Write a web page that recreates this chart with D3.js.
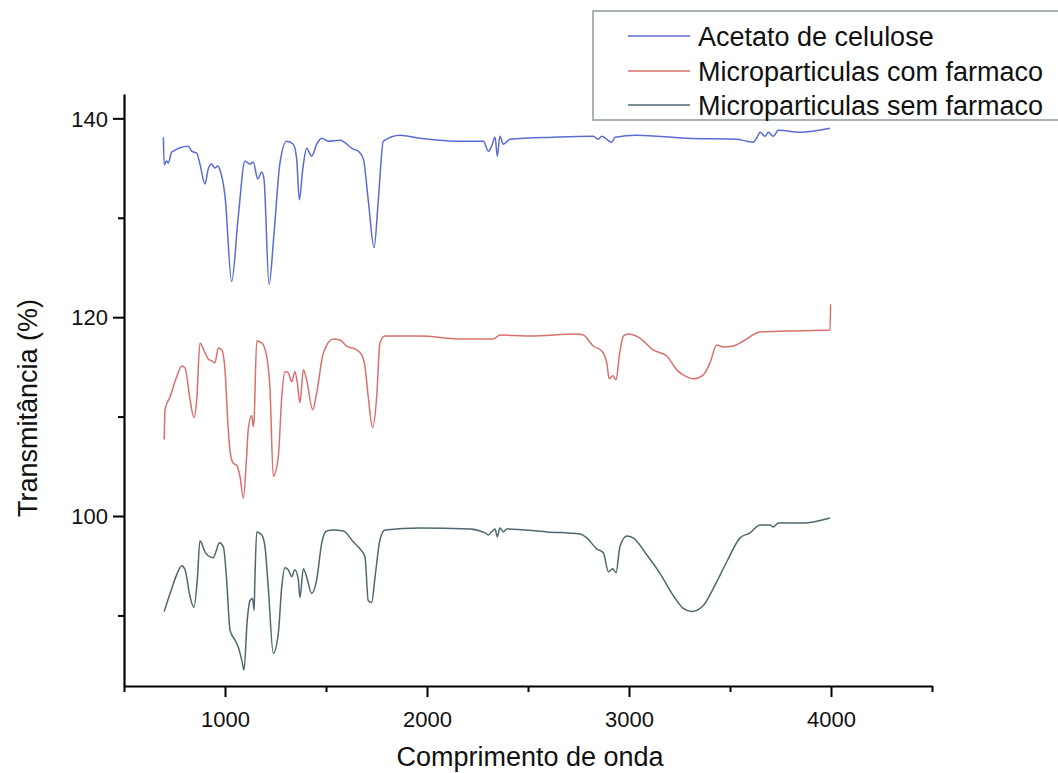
<!DOCTYPE html>
<html>
<head>
<meta charset="utf-8">
<script src="https://cdn.jsdelivr.net/npm/d3@7"></script>
<style>
  html, body { margin: 0; padding: 0; background: #fff; }
  svg { display: block; }
  text { font-family: "Liberation Sans", Arial, sans-serif; }
</style>
</head>
<body>
<svg id="chart" width="1058" height="773"></svg>
<script>
// ---------- data ----------
const seriesNames = ["Acetato de celulose", "Microparticulas com farmaco", "Microparticulas sem farmaco"];

const acetatoWn = [695,699,711,719,736,818,835,860,876,901,917,934,950,964,975,1000,1033,1066,1099,1124,1140,1162,1182,1193,1218,1243,1272,1305,1338,1355,1368,1385,1404,1429,1454,1479,1511,1569,1635,1660,1685,1709,1738,1759,1784,1866,1965,2064,2130,2279,2304,2320,2337,2348,2361,2378,2411,2625,2823,2848,2865,2914,2931,3038,3286,3533,3583,3615,3632,3649,3673,3690,3714,3739,3847,3995];
const acetatoT  = [138.1,135.3,135.7,135.5,136.6,137.2,136.7,136.5,135.4,133.4,134.9,135.4,135.0,135.2,134.8,132.2,123.6,130.2,135.7,135.4,135.6,133.9,134.6,133.9,123.3,128.5,135.5,137.7,137.4,135.9,131.8,134.9,137.0,136.2,137.4,138.0,137.7,137.8,136.9,136.7,135.9,131.8,127.0,131.8,137.7,138.3,138.0,137.8,137.7,137.7,136.7,137.2,138.1,136.2,138.2,137.4,137.9,138.1,138.2,137.9,138.2,137.6,138.1,138.3,138.0,137.9,137.7,137.6,138.0,138.6,138.2,138.6,138.2,138.8,138.6,139.0];

const comWn = [699,703,728,761,786,802,827,846,860,876,901,917,934,950,967,984,1000,1016,1025,1041,1058,1074,1091,1107,1115,1132,1140,1144,1157,1182,1206,1223,1239,1264,1281,1297,1313,1330,1346,1358,1371,1388,1404,1434,1454,1487,1536,1569,1602,1652,1677,1693,1709,1731,1751,1767,1792,1866,1965,2163,2328,2361,2510,2741,2774,2823,2865,2890,2902,2919,2936,2952,2972,2996,3054,3120,3187,3236,3286,3318,3368,3401,3434,3467,3516,3566,3648,3781,3995,3998];
const comT  = [107.7,110.7,112.0,114.0,115.1,114.9,111.7,109.9,111.7,117.4,116.4,115.8,115.6,115.4,116.9,116.7,114.7,108.7,106.5,105.3,105.1,104.0,101.8,106.0,108.7,110.1,109.0,109.7,117.6,117.4,116.1,112.7,104.0,106.0,112.0,114.5,114.4,113.5,114.5,113.4,111.4,114.7,113.7,110.7,112.4,116.4,117.8,117.7,117.1,116.7,116.2,115.0,112.0,108.9,112.0,117.4,118.1,118.1,118.1,117.8,117.8,118.2,118.1,118.3,118.2,117.1,116.6,115.4,113.8,114.1,113.7,116.1,118.1,118.3,117.9,116.7,116.1,114.7,114.0,113.8,114.2,115.4,117.2,117.0,117.1,117.6,118.5,118.6,118.7,121.3];

const semWn = [699,728,761,786,802,827,846,863,876,901,917,942,955,972,992,1008,1025,1050,1066,1083,1094,1110,1124,1137,1144,1148,1157,1182,1198,1214,1239,1264,1281,1297,1313,1330,1346,1363,1371,1388,1404,1429,1454,1479,1503,1536,1586,1635,1668,1693,1709,1726,1743,1767,1792,1965,2213,2287,2304,2320,2337,2348,2361,2378,2395,2593,2757,2791,2840,2873,2898,2919,2936,2955,2989,3021,3088,3154,3219,3269,3310,3368,3417,3484,3550,3599,3649,3698,3714,3739,3863,3995];
const semT  = [90.4,92.2,94.1,95.0,94.6,91.9,90.8,93.6,97.5,96.4,96.0,95.8,96.4,97.3,96.9,93.6,88.5,87.5,86.8,85.5,84.5,89.5,91.5,91.7,90.5,93.6,98.4,98.1,96.9,92.9,86.2,88.2,92.9,94.8,94.6,93.9,94.6,93.6,91.8,94.7,93.9,92.2,93.6,97.3,98.5,98.6,98.5,97.4,96.7,95.9,91.5,91.3,93.9,97.6,98.6,98.8,98.7,98.3,98.1,98.4,98.7,97.9,98.8,98.4,98.7,98.4,98.2,97.8,96.7,96.3,94.4,94.7,94.3,96.9,98.0,97.8,96.1,94.2,92.0,90.7,90.4,91.0,92.7,95.4,97.8,98.3,99.1,99.1,98.9,99.3,99.3,99.8];

const xTicks = [500,1000,1500,2000,2500,3000,3500,4000,4500];
const xTickLabels = [1000,2000,3000,4000];
const yTicks = [90,100,110,120,130,140];
const yTickLabels = [100,120,140];

const xTitle = "Comprimento de onda";
const yTitle = "Transmitância (%)";
const colors = ["#5a6cd2", "#d9706e", "#4f6870"];

// ---------- drawing ----------
const svg = d3.select("#chart");
const x = d3.scaleLinear().domain([500, 4500]).range([124, 932]);
const y = d3.scaleLinear().domain([82.9, 142.45]).range([686, 94]);

const series = [
  {name: seriesNames[0], wn: acetatoWn, t: acetatoT, color: colors[0]},
  {name: seriesNames[1], wn: comWn, t: comT, color: colors[1]},
  {name: seriesNames[2], wn: semWn, t: semT, color: colors[2]}
];

const line = d3.line()
  .x(d => x(d[0])).y(d => y(d[1]))
  .curve(d3.curveMonotoneX);

series.forEach(s => {
  const pts = d3.zip(s.wn, s.t);
  svg.append("path")
    .datum(pts)
    .attr("fill", "none")
    .attr("stroke", s.color)
    .attr("stroke-width", 1.5)
    .attr("stroke-linejoin", "round")
    .attr("d", line);
});

// X axis
const xAxis = svg.append("g")
  .attr("transform", `translate(0,${y.range()[0]})`)
  .call(d3.axisBottom(x).tickValues(xTicks)
    .tickFormat(d => xTickLabels.includes(d) ? d : "")
    .tickSizeOuter(0));
xAxis.select(".domain").attr("stroke", "#000").attr("stroke-width", 2.2);
xAxis.selectAll(".tick line")
  .attr("stroke", "#000").attr("stroke-width", 2)
  .attr("y2", d => d % 1000 === 0 ? 11 : 6);
xAxis.selectAll(".tick text")
  .attr("y", 25).attr("dy", "0.71em")
  .attr("font-size", 22).attr("fill", "#111")
  .style("font-family", '"Liberation Sans", Arial, sans-serif');

// Y axis
const yAxis = svg.append("g")
  .attr("transform", `translate(${x.range()[0]},0)`)
  .call(d3.axisLeft(y).tickValues(yTicks)
    .tickFormat(d => yTickLabels.includes(d) ? d : "")
    .tickSizeOuter(0));
yAxis.select(".domain").attr("stroke", "#000").attr("stroke-width", 2.2);
yAxis.selectAll(".tick line")
  .attr("stroke", "#000").attr("stroke-width", 2)
  .attr("x2", d => yTickLabels.includes(d) ? -11 : -6);
yAxis.selectAll(".tick text")
  .attr("x", -16).attr("dy", "0.35em")
  .attr("font-size", 22).attr("fill", "#111")
  .style("font-family", '"Liberation Sans", Arial, sans-serif');

// Axis titles
svg.append("text")
  .attr("x", (x.range()[0] + x.range()[1]) / 2 + 2)
  .attr("y", 766)
  .attr("text-anchor", "middle")
  .attr("font-size", 27).attr("fill", "#111")
  .text(xTitle);

svg.append("text")
  .attr("transform", "translate(37,408) rotate(-90)")
  .attr("text-anchor", "middle")
  .attr("font-size", 27).attr("fill", "#111")
  .text(yTitle);

// Legend
const lg = svg.append("g");
lg.append("rect")
  .attr("x", 593).attr("y", 11).attr("width", 500).attr("height", 109)
  .attr("fill", "#fff").attr("stroke", "#8c9a9c").attr("stroke-width", 1.5);
const rowY = [36, 71, 105];
series.forEach((s, i) => {
  lg.append("line")
    .attr("x1", 628).attr("x2", 690)
    .attr("y1", rowY[i]).attr("y2", rowY[i])
    .attr("stroke", s.color).attr("stroke-width", 1.4);
  lg.append("text")
    .attr("x", 698).attr("y", rowY[i] + 10)
    .attr("font-size", 27).attr("fill", "#111")
    .text(s.name);
});
</script>
</body>
</html>
